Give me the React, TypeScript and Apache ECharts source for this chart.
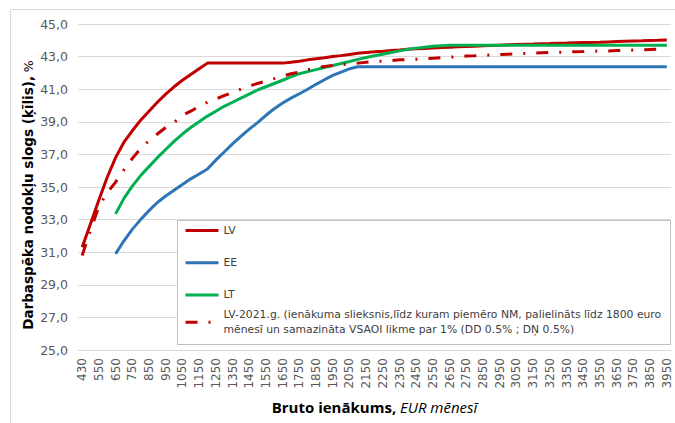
import React, { useEffect, useRef } from 'react';
import * as echarts from 'echarts';

const categories = [
  '430', '500', '550', '600', '650', '700', '750', '800', '850', '900', '950', '1000',
  '1050', '1100', '1150', '1200', '1250', '1300', '1350', '1400', '1450', '1500', '1550', '1600',
  '1650', '1700', '1750', '1800', '1850', '1900', '1950', '2000', '2050', '2100', '2150', '2200',
  '2250', '2300', '2350', '2400', '2450', '2500', '2550', '2600', '2650', '2700', '2750', '2800',
  '2850', '2900', '2950', '3000', '3050', '3100', '3150', '3200', '3250', '3300', '3350', '3400',
  '3450', '3500', '3550', '3600', '3650', '3700', '3750', '3800', '3850', '3900', '3950',
];

const lvValues = [
  31.3, 32.75, 34.2, 35.6, 36.8, 37.75, 38.45, 39.1, 39.65, 40.2, 40.7, 41.15,
  41.55, 41.9, 42.25, 42.6, 42.6, 42.6, 42.6, 42.6, 42.6, 42.6, 42.6, 42.6,
  42.6, 42.65, 42.72, 42.8, 42.87, 42.93, 43.0, 43.06, 43.13, 43.2, 43.25, 43.3,
  43.33, 43.37, 43.4, 43.45, 43.48, 43.5, 43.53, 43.56, 43.58, 43.6, 43.62, 43.64,
  43.66, 43.68, 43.7, 43.72, 43.74, 43.76, 43.77, 43.79, 43.8, 43.82, 43.83, 43.85,
  43.86, 43.87, 43.88, 43.9, 43.92, 43.94, 43.96, 43.97, 43.99, 44.0, 44.02,
];

const eeValues = [
  null, null, null, null, 30.9, 31.7, 32.4, 33.0, 33.55, 34.05, 34.45, 34.8,
  35.15, 35.5, 35.8, 36.1, 36.65, 37.15, 37.65, 38.1, 38.55, 38.95, 39.4, 39.8,
  40.15, 40.45, 40.72, 41.0, 41.3, 41.58, 41.85, 42.05, 42.25, 42.38, 42.38, 42.38,
  42.38, 42.38, 42.38, 42.38, 42.38, 42.38, 42.38, 42.38, 42.38, 42.38, 42.38, 42.38,
  42.38, 42.38, 42.38, 42.38, 42.38, 42.38, 42.38, 42.38, 42.38, 42.38, 42.38, 42.38,
  42.38, 42.38, 42.38, 42.38, 42.38, 42.38, 42.38, 42.38, 42.38, 42.38, 42.38,
];

const ltValues = [
  null, null, null, null, 33.35, 34.3, 35.05, 35.7, 36.25, 36.8, 37.3, 37.8,
  38.25, 38.65, 39.0, 39.35, 39.65, 39.95, 40.2, 40.45, 40.7, 40.95, 41.15, 41.35,
  41.55, 41.75, 41.95, 42.08, 42.2, 42.33, 42.45, 42.58, 42.7, 42.83, 42.95, 43.05,
  43.15, 43.25, 43.35, 43.45, 43.52, 43.58, 43.63, 43.67, 43.69, 43.7, 43.7, 43.7,
  43.7, 43.7, 43.7, 43.7, 43.7, 43.7, 43.7, 43.7, 43.7, 43.7, 43.7, 43.7,
  43.7, 43.7, 43.7, 43.7, 43.7, 43.7, 43.7, 43.7, 43.7, 43.7, 43.7,
];

const lv2021Values = [
  30.8, 32.35, 33.8, 34.65, 35.3, 36.05, 36.75, 37.35, 37.85, 38.25, 38.65, 38.95,
  39.4, 39.65, 39.95, 40.2, 40.4, 40.6, 40.8, 41.0, 41.2, 41.35, 41.5, 41.65,
  41.8, 41.95, 42.05, 42.2, 42.3, 42.4, 42.45, 42.5, 42.55, 42.6, 42.65, 42.7,
  42.72, 42.76, 42.8, 42.82, 42.84, 42.86, 42.9, 42.93, 42.96, 43.0, 43.03, 43.05,
  43.08, 43.1, 43.13, 43.15, 43.17, 43.19, 43.21, 43.23, 43.25, 43.27, 43.28, 43.3,
  43.31, 43.33, 43.34, 43.35, 43.37, 43.38, 43.4, 43.42, 43.44, 43.46, 43.48,
];

const NAME_LV = 'LV';
const NAME_EE = 'EE';
const NAME_LT = 'LT';
const NAME_2021 =
  'LV-2021.g. (ienākuma slieksnis,līdz kuram piemēro NM, palielināts līdz 1800 euro mēnesī un samazināta VSAOI likme par 1% (DD 0.5% ; DŅ 0.5%)';

const RED = '#C00000';
const BLUE = '#2E75B6';
const GREEN = '#00B050';

export default function App() {
  const ref = useRef<HTMLDivElement>(null);

  useEffect(() => {
    if (!ref.current) return;
    const chart = echarts.init(ref.current, null, { renderer: 'svg' });
    const legendText = {
      fontFamily: 'DejaVu Sans',
      fontSize: 10.8,
      color: '#404040',
      lineHeight: 15,
    };
    chart.setOption({
      animation: false,
      backgroundColor: '#ffffff',
      textStyle: { fontFamily: 'DejaVu Sans' },
      grid: { left: 78, right: 4, top: 24, bottom: 73 },
      xAxis: {
        type: 'category',
        data: categories,
        boundaryGap: true,
        axisLine: { lineStyle: { color: '#d9d9d9', width: 1 } },
        axisTick: { show: false },
        axisLabel: {
          interval: 1,
          rotate: 90,
          fontSize: 12,
          color: '#595959',
          margin: 8,
          fontFamily: 'DejaVu Sans',
        },
        name: '{b|Bruto ienākums,} {i|EUR mēnesī}',
        nameLocation: 'middle',
        nameGap: 49,
        nameMoveOverlap: false,
        nameTextStyle: {
          rich: {
            b: { fontWeight: 'bold', fontSize: 15, fontFamily: 'Open Sans', color: '#000' },
            i: { fontStyle: 'italic', fontSize: 15, fontFamily: 'Open Sans', color: '#000' },
          },
        },
      },
      yAxis: {
        type: 'value',
        min: 25,
        max: 45,
        interval: 2,
        axisLine: { show: false },
        axisTick: { show: false },
        axisLabel: {
          formatter: (v: number) => v.toFixed(1).replace('.', ','),
          fontSize: 12.5,
          color: '#595959',
          margin: 10,
          fontFamily: 'DejaVu Sans',
        },
        splitLine: { lineStyle: { color: '#d9d9d9', width: 1 } },
        name: '{b|Darbaspēka nodokļu slogs (ķīlis),} {n|%}{s|}',
        nameLocation: 'middle',
        nameGap: 43,
        nameRotate: 90,
        nameMoveOverlap: false,
        nameTextStyle: {
          rich: {
            b: { fontWeight: 'bold', fontSize: 13.5, fontFamily: 'DejaVu Sans', color: '#000' },
            n: { fontSize: 12.5, fontFamily: 'DejaVu Sans', color: '#000' },
            s: { width: 16, fontSize: 12.5 },
          },
        },
      },
      legend: [
        {
          data: [NAME_LV, NAME_EE, NAME_LT],
          orient: 'vertical',
          left: 184,
          top: 223,
          padding: 0,
          itemGap: 17.2,
          itemWidth: 33,
          itemHeight: 14,
          selectedMode: false,
          itemStyle: { opacity: 0 },
          lineStyle: { width: 3 },
          textStyle: legendText,
          z: 5,
        },
        {
          data: [{ name: NAME_2021, textStyle: { padding: [15, 0, 0, 0] } }],
          orient: 'vertical',
          left: 184,
          top: 299.8,
          padding: 0,
          itemWidth: 33,
          itemHeight: 14,
          selectedMode: false,
          itemStyle: { opacity: 0 },
          lineStyle: { width: 3 },
          formatter: (n: string) => n.replace(' euro mēnesī', ' euro\nmēnesī'),
          textStyle: legendText,
          z: 5,
        },
      ],
      graphic: [
        {
          type: 'rect',
          silent: true,
          z: 0,
          shape: { x: 10.5, y: 9.5, width: 680, height: 430 },
          style: { fill: 'none', stroke: '#d9d9d9', lineWidth: 1 },
        },
        {
          type: 'rect',
          silent: true,
          z: 3,
          shape: { x: 177.5, y: 220.5, width: 493, height: 124 },
          style: { fill: '#ffffff', stroke: '#bfbfbf', lineWidth: 1 },
        },
      ],
      series: [
        {
          name: NAME_LV,
          type: 'line',
          data: lvValues,
          symbol: 'none',
          color: RED,
          lineStyle: { color: RED, width: 3 },
          z: 2,
        },
        {
          name: NAME_EE,
          type: 'line',
          data: eeValues,
          symbol: 'none',
          color: BLUE,
          lineStyle: { color: BLUE, width: 3 },
          z: 2,
        },
        {
          name: NAME_LT,
          type: 'line',
          data: ltValues,
          symbol: 'none',
          color: GREEN,
          lineStyle: { color: GREEN, width: 3 },
          z: 2,
        },
        {
          name: NAME_2021,
          type: 'line',
          data: lv2021Values,
          symbol: 'none',
          color: RED,
          lineStyle: { color: RED, width: 3, type: [12, 11, 2, 11] },
          z: 2,
        },
      ],
    });
    return () => chart.dispose();
  }, []);

  return (
    <div
      ref={ref}
      style={{ position: 'absolute', left: 0, top: 0, width: 675, height: 423 }}
    />
  );
}
